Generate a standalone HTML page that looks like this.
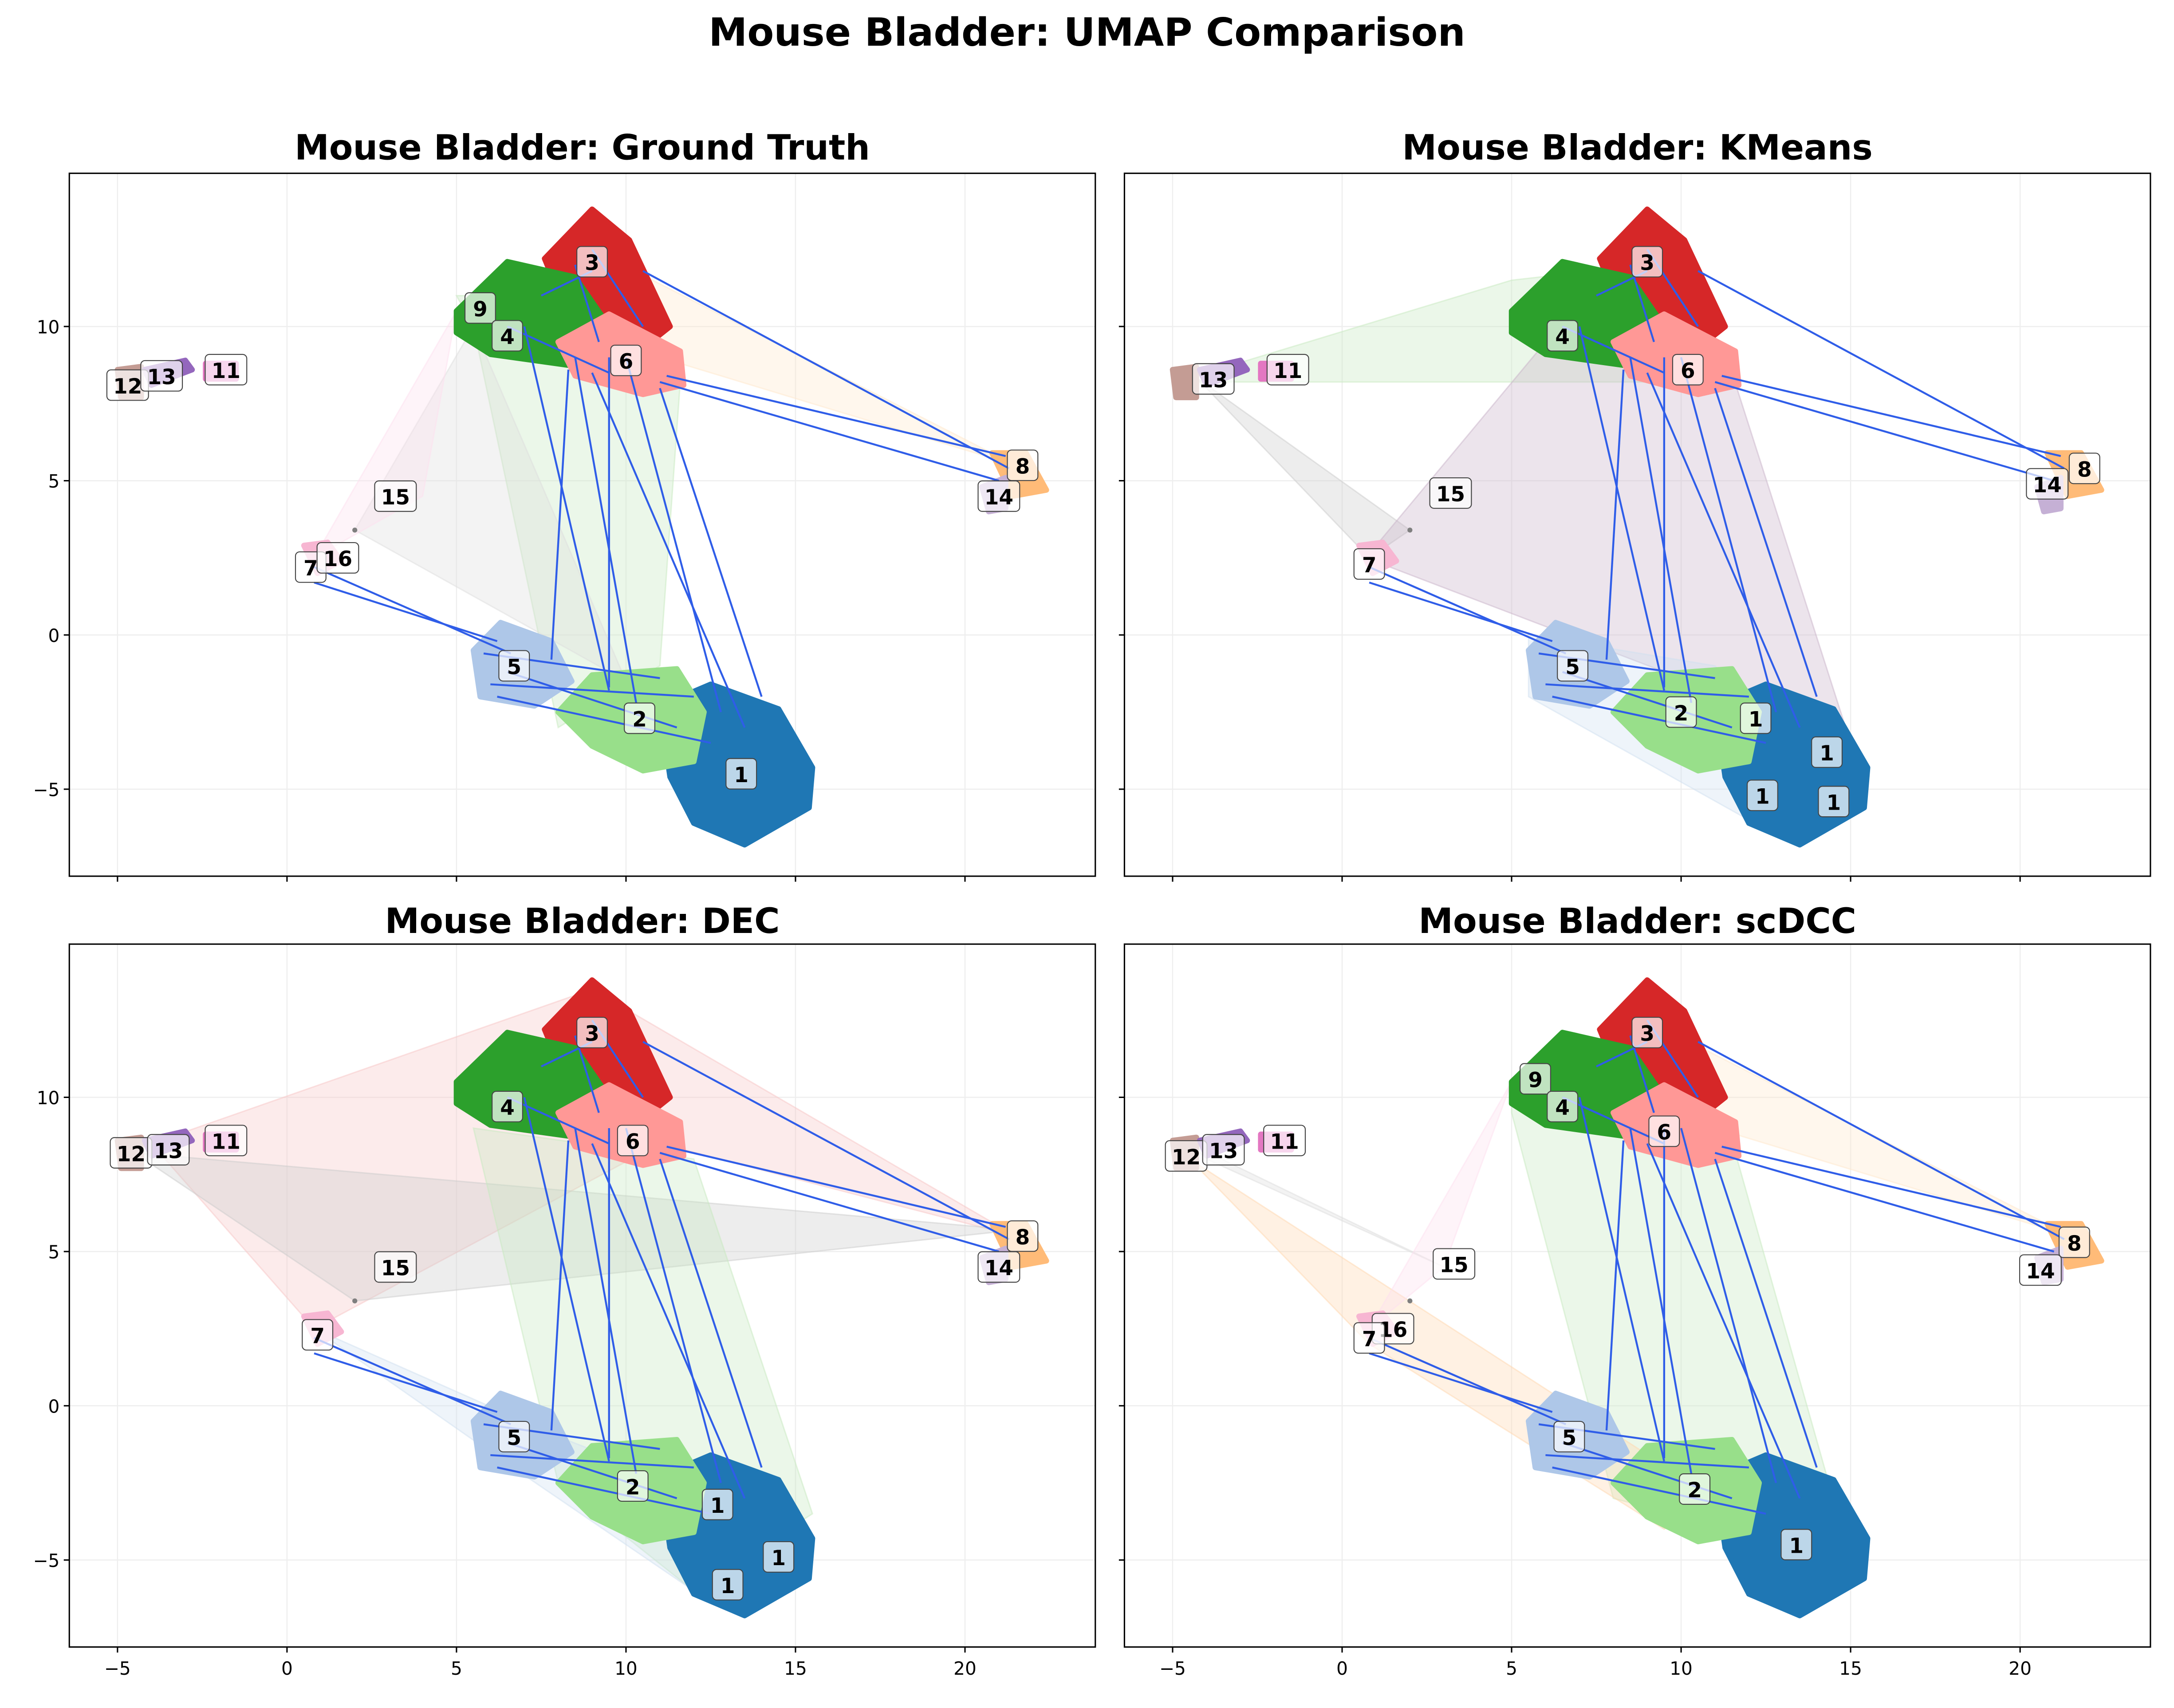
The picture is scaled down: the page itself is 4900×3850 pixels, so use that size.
<!DOCTYPE html>
<html><head><meta charset="utf-8"><style>
html,body{margin:0;padding:0;background:#fff}
svg{display:block}
text{font-family:"DejaVu Sans","Liberation Sans",sans-serif}
</style></head><body>
<svg id="fig" width="4900" height="3850" viewBox="0 0 1568 1232" xmlns="http://www.w3.org/2000/svg">
<rect width="1568" height="1232" fill="#fff"/>
<text x="784" y="33" text-anchor="middle" font-size="28" font-weight="bold">Mouse Bladder: UMAP Comparison</text>
</svg>
<script>
// ---- data ----
const xTicks=[-5,0,5,10,15,20];
const yTicks=[-5,0,5,10];
const panelTitles=["Mouse Bladder: Ground Truth","Mouse Bladder: KMeans","Mouse Bladder: DEC","Mouse Bladder: scDCC"];
const clusterColors={1:"#1f77b4",2:"#98df8a",3:"#d62728",4:"#2ca02c",5:"#aec7e8",6:"#ff9896",7:"#f7b6d2",8:"#ffbb78",11:"#e377c2",12:"#c49c94",13:"#9467bd",14:"#c5b0d5",16:"#ffbb78"};
const clusterHulls={
 1:[[11,-2.3],[12.5,-1.6],[14.5,-2.4],[15.5,-4.3],[15.4,-5.6],[13.5,-6.8],[12,-6.1],[11.3,-4.6]],
 2:[[8,-2.5],[9,-1.3],[11.5,-1.1],[12.3,-2.5],[12,-4.1],[10.5,-4.4],[9,-3.6]],
 5:[[5.5,-0.5],[6.3,0.4],[7.8,-0.2],[8.4,-1.5],[7.3,-2.3],[5.7,-2]],
 3:[[7.6,12.2],[9,13.8],[10.1,12.8],[11.3,10],[10.5,9.3],[8.5,9.8]],
 4:[[5,10.5],[6.5,12.1],[8.5,11.6],[9.5,10],[8.6,8.7],[6,9.1],[5,9.8]],
 6:[[8,9.5],[9.5,10.4],[11.6,9.2],[11.7,8.1],[10.5,7.8],[8.5,8.4]],
 8:[[20.8,5.9],[21.8,5.9],[22.4,4.7],[21.4,4.5]],
 14:[[20.5,4.8],[21.2,5.1],[21.2,4.1],[20.7,4]],
 7:[[0.5,2.9],[1.2,3],[1.6,2.4],[0.9,2]],
 12:[[-5,8.6],[-4.3,8.7],[-4.3,7.7],[-4.9,7.7]],
 13:[[-4.2,8.6],[-3,8.9],[-2.8,8.6],[-4,8.1]],
 11:[[-2.4,8.8],[-1.5,8.8],[-1.5,8.3],[-2.4,8.3]]
};
const edges=[[10.5,11.8,21.3,5.4],[11.2,8.4,21.2,5.8],[11,8.2,21,5],[0.8,1.7,6.2,-0.2],[0.8,2.2,6.6,-0.6],
 [9.5,9,9.5,-1.7],[8.3,8.6,7.8,-0.8],[8.5,9,10.3,-2.2],[7,10,9.5,-1.8],[9,8.5,13.5,-3],[10,9,12.8,-2.5],[11,8,14,-2],
 [6,-1.6,12,-2],[6.2,-2,12.5,-3.5],[5.8,-0.6,11,-1.4],[6.5,-1.2,11.5,-3],[7.5,11,9,11.8],[8.5,12,9.2,9.5],[6.5,10,9.5,8.5],[9,12.5,10.5,10]];
const gtLabels=[[3,9,12.1],[9,5.7,10.6],[4,6.5,9.7],[6,10,8.9],[12,-4.7,8.1],[13,-3.7,8.4],[11,-1.8,8.6],[15,3.2,4.5],[7,0.7,2.2],[16,1.5,2.5],[5,6.7,-1],[2,10.4,-2.7],[1,13.4,-4.5],[8,21.7,5.5],[14,21,4.5]];
const kmLabels=[[3,9,12.1],[4,6.5,9.7],[6,10.2,8.6],[13,-3.8,8.3],[11,-1.6,8.6],[15,3.2,4.6],[7,0.8,2.3],[5,6.8,-1],[2,10,-2.5],[1,12.2,-2.7],[1,14.3,-3.8],[1,12.4,-5.2],[1,14.5,-5.4],[8,21.9,5.4],[14,20.8,4.9]];
const decLabels=[[3,9,12.1],[4,6.5,9.7],[6,10.2,8.6],[12,-4.6,8.2],[13,-3.5,8.3],[11,-1.8,8.6],[15,3.2,4.5],[7,0.9,2.3],[5,6.7,-1],[2,10.2,-2.6],[1,12.7,-3.2],[1,14.5,-4.9],[1,13,-5.8],[8,21.7,5.5],[14,21,4.5]];
const scLabels=[[3,9,12.1],[9,5.7,10.6],[4,6.5,9.7],[6,9.5,8.9],[12,-4.6,8.1],[13,-3.5,8.3],[11,-1.7,8.6],[15,3.3,4.6],[16,1.5,2.5],[7,0.8,2.2],[5,6.7,-1],[2,10.4,-2.7],[1,13.4,-4.5],[8,21.6,5.3],[14,20.6,4.4]];
const hullSets=[
 [["#c7e9c0",[[5,11],[8,11],[11.6,8.2],[11,-1],[8,-3],[5.5,10]]],["#ddd",[[2,3.4],[5.5,10],[10,-1.5]]],["#fde0ef",[[0.8,2.5],[5,10.5],[4,4.5]]],["#ffe8cc",[[9,12.5],[21.5,5.5],[11,9]]]],
 [["#c7e9c0",[[5,11.5],[9,12],[11,8.2],[-4,8.2],[-4,8.5]]],["#ccc",[[-4.5,8.5],[2,3.4],[0.8,2.5],[-4,8]]],["#c9b3c9",[[6,9.5],[0.7,2.5],[15,-3.5],[11.5,8.5],[9,10]]],["#cfe0f0",[[5.5,0],[11,-1],[15,-5],[12,-6],[5.5,-2]]]],
 [["#f7c6c6",[[-4,8.5],[9,13.5],[21.5,5.5],[11,8.5],[0.8,2.5]]],["#ccc",[[-4.5,8.2],[21.5,5.7],[2,3.4]]],["#c7e9c0",[[5.5,9],[12,8],[15.5,-3.5],[12,-6],[8,-2.5]]],["#cfe0f0",[[0.8,2.5],[8,-1],[15,-4],[12,-6],[6,-1.5]]]],
 [["#c7e9c0",[[5,10.5],[11.6,8.2],[15,-5],[8,-3],[5,9.5]]],["#ddd",[[-4.5,8.5],[3,4.5],[-4,8]]],["#ffd8b0",[[-4.5,8],[11,-3],[9.5,-4],[0.8,2]]],["#ffe8cc",[[9,12.5],[21.5,5.5],[11,9]]],["#fde0ef",[[0.8,2.5],[5,10.5],[3,4.5]]]]
];
const labelSets=[gtLabels,kmLabels,decLabels,scLabels];
// ---- drawing ----
const NS="http://www.w3.org/2000/svg";
const svg=document.getElementById('fig');
function mk(tag,attrs,parent){const e=document.createElementNS(NS,tag);for(const k in attrs)e.setAttribute(k,attrs[k]);(parent||svg).appendChild(e);return e;}
const panels=[{l:50,t:125,title:107},{l:811,t:125,title:107},{l:50,t:681,title:665},{l:811,t:681,title:665}];
const W=740,H=507;
panels.forEach((p,i)=>{
 const X=v=>p.l+157+v*24.45, Y=v=>p.t+333-v*22.25;
 const g=mk('g',{});
 
 
 const clipId='clip'+i;
 const cp=mk('clipPath',{id:clipId},g);mk('rect',{x:p.l,y:p.t,width:W,height:H},cp);
 const inner=mk('g',{'clip-path':'url(#'+clipId+')'},g);
 xTicks.forEach(v=>mk('line',{x1:X(v),x2:X(v),y1:p.t,y2:p.t+H,stroke:'#eee','stroke-width':0.8},inner));
 yTicks.forEach(v=>mk('line',{x1:p.l,x2:p.l+W,y1:Y(v),y2:Y(v),stroke:'#eee','stroke-width':0.8},inner));
 hullSets[i].forEach(h=>{const pg=mk('polygon',{points:h[1].map(q=>X(q[0])+','+Y(q[1])).join(' '),fill:h[0],'fill-opacity':0.35,stroke:h[0],'stroke-opacity':0.5},inner);
  
  });
 Object.keys(clusterHulls).forEach(k=>{const pg=mk('polygon',{points:clusterHulls[k].map(q=>X(q[0])+','+Y(q[1])).join(' '),fill:clusterColors[k],stroke:clusterColors[k],'stroke-width':4,'stroke-linejoin':'round'},inner);
  
  });
 mk('circle',{cx:X(2),cy:Y(3.4),r:1.8,fill:'#7f7f7f'},inner);
 edges.forEach(e=>{const ln=mk('line',{x1:X(e[0]),y1:Y(e[1]),x2:X(e[2]),y2:Y(e[3]),stroke:'#2f5de8','stroke-width':1.4},inner);
  
  });
 labelSets[i].forEach(L=>{const s=String(L[0]);const w=s.length>1?30:22;const cx=X(L[1]),cy=Y(L[2]);
  const lg=mk('g',{},inner);
  
  
  mk('rect',{x:cx-w/2,y:cy-11,width:w,height:22,rx:3,fill:'#fff','fill-opacity':0.7,stroke:'#444','stroke-width':0.7},lg);
  mk('text',{x:cx,y:cy+6,'text-anchor':'middle','font-size':15,'font-weight':'bold'},lg).textContent=s;});
 mk('rect',{x:p.l,y:p.t,width:W,height:H,fill:'none',stroke:'#000','stroke-width':1},g);
 xTicks.forEach(v=>{mk('line',{x1:X(v),x2:X(v),y1:p.t+H,y2:p.t+H+4,stroke:'#000'},g);
  if(i>=2){const t=mk('text',{x:X(v),y:p.t+H+20,'text-anchor':'middle','font-size':13},g);t.textContent=String(v).replace('-','\u2212');
   
   }});
 yTicks.forEach(v=>{mk('line',{x1:p.l-4,x2:p.l,y1:Y(v),y2:Y(v),stroke:'#000'},g);
  if(i%2==0){const t=mk('text',{x:p.l-7,y:Y(v)+5,'text-anchor':'end','font-size':13},g);t.textContent=String(v).replace('-','\u2212');
   
   }});
 const tt=mk('text',{x:p.l+W/2,y:p.title+8,'text-anchor':'middle','font-size':25,'font-weight':'bold'},g);
 tt.textContent=panelTitles[i];
 
 
});
</script>
</body></html>
